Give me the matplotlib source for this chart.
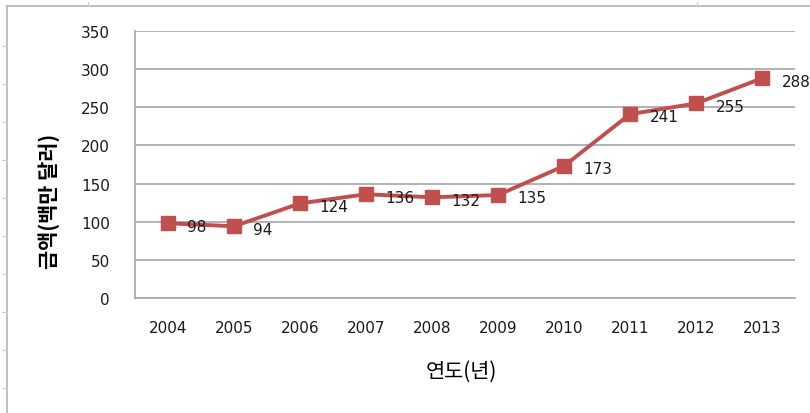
import matplotlib.pyplot as plt
from matplotlib.lines import Line2D

plt.rcParams['font.family'] = ['DejaVu Sans', 'Noto Sans CJK KR']

# ================== 데이터 ==================
years = ['2004', '2005', '2006', '2007', '2008', '2009', '2010', '2011', '2012', '2013']
amounts = [98, 94, 124, 136, 132, 135, 173, 241, 255, 288]
y_ticks = [0, 50, 100, 150, 200, 250, 300, 350]

LINE_COLOR = '#c0504d'
GRID_COLOR = '#a6a6a6'
KR_FONT = ['Noto Sans CJK KR', 'DejaVu Sans']

fig = plt.figure(figsize=(8.1, 4.14), dpi=100)

# 바깥 테두리 (엑셀 차트 영역 느낌)
W, H = 810, 414
fig.add_artist(Line2D([7 / W, 7 / W], [0, 1 - 7 / H], color='#b4b4b4', lw=1.2))
fig.add_artist(Line2D([7 / W, 1], [1 - 7 / H, 1 - 7 / H], color='#b4b4b4', lw=1.2))
for py in range(47, 414, 38):
    fig.add_artist(Line2D([2 / W, 7 / W], [1 - py / H, 1 - py / H], color='#c8d0dc', lw=0.8))
for px in [88, 697]:
    fig.add_artist(Line2D([px / W, px / W], [1 - 3 / H, 1 - 7 / H], color='#c8d0dc', lw=0.8))

ax = fig.add_axes([135 / W, 1 - 299 / H, (795 - 135) / W, (299 - 32) / H])

x = list(range(len(years)))
ax.plot(x, amounts, color=LINE_COLOR, lw=2.8, marker='s', markersize=10.5,
        markerfacecolor=LINE_COLOR, markeredgecolor=LINE_COLOR, zorder=3, clip_on=False)

for xi, v in zip(x, amounts):
    ax.annotate(str(v), (xi, v), xytext=(14, -2), textcoords='offset points',
                ha='left', va='center', fontsize=11, color='#1a1a1a', zorder=4)

ax.set_xlim(-0.5, len(years) - 0.5)
ax.set_ylim(0, 350)
ax.set_yticks(y_ticks)
ax.set_xticks(x)
ax.set_xticklabels(years)
ax.tick_params(axis='both', length=0, labelsize=11, colors='#1a1a1a')
ax.tick_params(axis='y', pad=18)
ax.tick_params(axis='x', pad=16)

ax.grid(axis='y', color=GRID_COLOR, lw=1.2)
ax.set_axisbelow(True)
for s in ['top', 'right']:
    ax.spines[s].set_visible(False)
ax.spines['left'].set_color(GRID_COLOR)
ax.spines['left'].set_linewidth(1.2)
ax.spines['bottom'].set_color(GRID_COLOR)
ax.spines['bottom'].set_linewidth(1.2)

ax.set_ylabel('금액(백만 달러)', fontsize=15, fontweight='bold', family=KR_FONT)
ax.yaxis.set_label_coords(-0.130, 0.367)
ax.yaxis.label.set_va('center')
ax.set_xlabel('연도(년)', fontsize=15, family=KR_FONT)
ax.xaxis.set_label_coords(0.494, -0.273)
ax.xaxis.label.set_va('center')

plt.savefig('out.png', dpi=100)
